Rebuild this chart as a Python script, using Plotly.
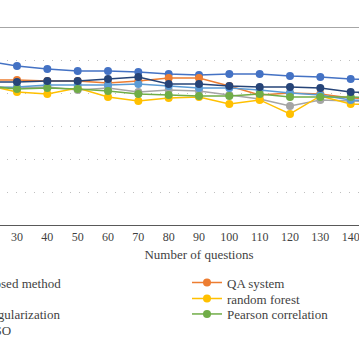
import plotly.graph_objects as go

# ---- data ----
questions = [20, 30, 40, 50, 60, 70, 80, 90, 100, 110, 120, 130, 140, 150]
proposed = [99.4, 96.4, 94.5, 93.3, 93.3, 92.7, 91.5, 90.9, 91.5, 91.5, 90.3, 89.7, 88.5, 87.9]
qa_system = [87.9, 87.9, 87.3, 87.3, 86.1, 87.3, 89.1, 89.1, 84.2, 78.8, 80.0, 79.4, 77.0, 76.4]
svm = [84.2, 83.0, 83.6, 81.8, 83.0, 80.6, 81.8, 81.2, 78.8, 76.4, 72.1, 75.8, 75.2, 74.5]
random_forest = [84.8, 80.6, 79.4, 83.0, 77.6, 75.2, 77.0, 77.6, 73.3, 75.8, 67.3, 78.2, 73.3, 72.7]
l1_reg = [83.0, 83.6, 84.8, 84.8, 84.8, 85.5, 84.2, 83.0, 83.0, 81.8, 80.0, 78.8, 75.8, 75.2]
pearson = [84.2, 82.4, 83.0, 82.4, 81.2, 79.4, 78.8, 78.2, 78.2, 79.4, 77.6, 77.6, 77.6, 77.0]
lasso = [86.7, 86.7, 87.3, 87.3, 88.5, 89.7, 85.5, 85.5, 84.2, 83.6, 83.6, 83.0, 80.6, 80.0]

series_names = ["Proposed method", "QA system", "SVM", "random forest",
                "L1 regularization", "Pearson correlation", "LASSO"]
series_values = [proposed, qa_system, svm, random_forest, l1_reg, pearson, lasso]
series_colors = ["#4472C4", "#ED7D31", "#A5A5A5", "#FFC000", "#5B9BD5", "#70AD47", "#264478"]
legend_rows = ["legend", "legend", "legend2", "legend2", "legend3", "legend3", "legend4"]
x_ticks = [10, 20, 30, 40, 50, 60, 70, 80, 90, 100, 110, 120, 130, 140, 150]

FONT = "Liberation Serif"
TXT = "#3F3F3F"
W, H = 592, 359
SHIFT = 100

fig = go.Figure()
for name, vals, col, lg in zip(series_names, series_values, series_colors, legend_rows):
    fig.add_trace(go.Scatter(
        x=questions, y=vals, name=name, mode="lines+markers",
        line=dict(color=col, width=1.5),
        marker=dict(color=col, size=8),
        legend=lg,
    ))

def row_legend(cy):
    return dict(orientation="h", xref="container", yref="container",
                x=30 / W, xanchor="left", y=1 - cy / H, yanchor="middle",
                entrywidth=212, entrywidthmode="pixels",
                font=dict(family=FONT, size=13, color=TXT),
                bgcolor="rgba(0,0,0,0)", borderwidth=0, traceorder="normal")

fig.update_layout(
    width=W, height=H,
    margin=dict(l=26, r=20, t=27, b=134),
    paper_bgcolor="white", plot_bgcolor="white",
    font=dict(family=FONT, size=12, color=TXT),
    showlegend=True,
    legend=row_legend(282.5),
    legend2=row_legend(298.5),
    legend3=row_legend(314),
    legend4=row_legend(329.5),
    xaxis=dict(range=[0, 180], tickvals=x_ticks, ticks="", showgrid=False,
               zeroline=False, showline=True, linecolor="#595959", linewidth=1,
               tickfont=dict(family=FONT, size=12, color=TXT), ticklabelstandoff=1,
               title=dict(text="Number of questions", standoff=6,
                          font=dict(family=FONT, size=13, color=TXT)),
               automargin=False),
    yaxis=dict(range=[0, 120], dtick=20, showgrid=True, gridcolor="#BFBFBF",
               griddash="1px,8px", gridwidth=1, zeroline=False, showline=False,
               ticks="", tickfont=dict(family=FONT, size=12, color=TXT),
               automargin=False),
    shapes=[dict(type="line", xref="paper", x0=0, x1=1, yref="y", y0=120, y1=120,
                 line=dict(color="#A6A6A6", width=2.2), layer="below")],
)

post = ("document.body.style.margin='0';document.body.style.overflow='hidden';"
        "var g=document.getElementById('{plot_id}');g.style.marginLeft='-%dpx';" % SHIFT)
fig.write_html("out.html", post_script=post, config={"displayModeBar": False})
